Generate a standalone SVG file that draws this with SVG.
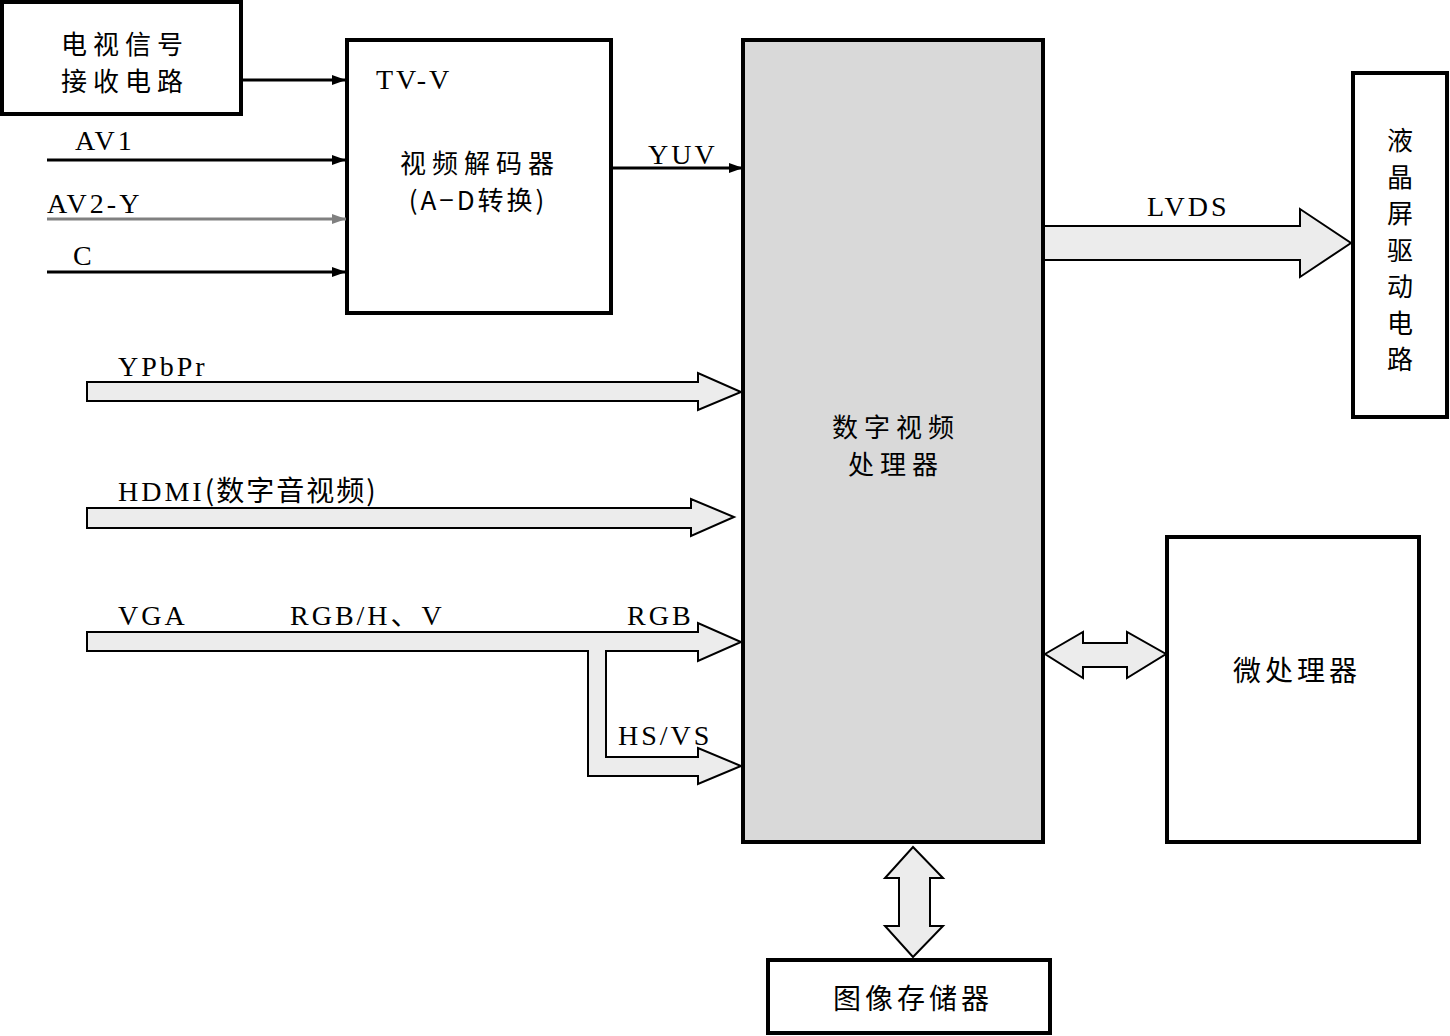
<svg xmlns="http://www.w3.org/2000/svg" width="1450" height="1036" viewBox="0 0 1450 1036">
<defs>
<marker id="ah" viewBox="0 0 14 10" refX="14" refY="5" markerWidth="14" markerHeight="10" markerUnits="userSpaceOnUse" orient="auto"><path d="M0,0 L14,5 L0,10 Z" fill="#000"/></marker>
<marker id="ahg" viewBox="0 0 14 10" refX="14" refY="5" markerWidth="14" markerHeight="10" markerUnits="userSpaceOnUse" orient="auto"><path d="M0,0 L14,5 L0,10 Z" fill="#808080"/></marker>
</defs>
<style>
.box{fill:#fff;stroke:#000;stroke-width:4}
.main{fill:#d9d9d9;stroke:#000;stroke-width:4}
.cn{font-family:"Noto Sans CJK SC",sans-serif;font-size:28px;fill:#000;letter-spacing:4px}
.cn2{font-family:"Noto Sans CJK SC",sans-serif;font-size:26px;fill:#000;letter-spacing:6px}
.cv{font-family:"Noto Sans CJK SC",sans-serif;font-size:26px;fill:#000;text-anchor:middle}
.lt{font-family:"Liberation Serif","Noto Sans CJK SC",serif;font-size:28px;fill:#000;letter-spacing:3px}
.ln{stroke:#000;stroke-width:3;fill:none}
.fat{fill:#ececec;stroke:#000;stroke-width:2;stroke-linejoin:miter}
</style>
<rect width="1450" height="1036" fill="#fff"/>
<g id="tv-receiver"><rect class="box" x="2" y="2" width="239" height="112"/><text class="cn2" x="125" y="54" text-anchor="middle">电视信号</text><text class="cn2" x="125" y="91" text-anchor="middle">接收电路</text></g>
<g id="decoder"><rect class="box" x="347" y="40" width="264" height="273"/><text class="lt" x="376" y="89">TV-V</text><text class="cn2" x="480" y="173" text-anchor="middle">视频解码器</text><text class="cn2" x="478" y="210" text-anchor="middle" style="letter-spacing:3px">(A−D转换)</text></g>
<g id="dsp"><rect class="main" x="743" y="40" width="300" height="802"/><text class="cn2" x="896" y="437" text-anchor="middle">数字视频</text><text class="cn2" x="896" y="474" text-anchor="middle">处理器</text></g>
<g id="lcd-driver"><rect class="box" x="1353" y="73" width="94" height="344"/>
<text class="cv" x="1400" y="150">液</text><text class="cv" x="1400" y="186.5">晶</text><text class="cv" x="1400" y="223">屏</text><text class="cv" x="1400" y="259.5">驱</text><text class="cv" x="1400" y="296">动</text><text class="cv" x="1400" y="332.5">电</text><text class="cv" x="1400" y="369">路</text></g>
<g id="mcu"><rect class="box" x="1167" y="537" width="252" height="305"/><text class="cn" x="1297" y="681" text-anchor="middle">微处理器</text></g>
<g id="memory"><rect class="box" x="768" y="960" width="282" height="73"/><text class="cn" x="913" y="1009" text-anchor="middle">图像存储器</text></g>
<g id="connectors">
<line class="ln" x1="241" y1="80" x2="346" y2="80" marker-end="url(#ah)"/>
<line class="ln" x1="47" y1="160" x2="346" y2="160" marker-end="url(#ah)"/>
<line x1="47" y1="219" x2="346" y2="219" stroke="#808080" stroke-width="3" marker-end="url(#ahg)"/>
<line class="ln" x1="47" y1="272" x2="346" y2="272" marker-end="url(#ah)"/>
<line class="ln" x1="611" y1="168" x2="743" y2="168" marker-end="url(#ah)"/>
<path class="fat" d="M87,382 L698,382 L698,373 L741,392 L698,410 L698,401 L87,401 Z"/>
<path class="fat" d="M87,508 L691,508 L691,499 L734,517 L691,536 L691,528 L87,528 Z"/>
<path class="fat" d="M87,632 L698,632 L698,623 L741,642 L698,661 L698,651 L606,651 L606,757 L698,757 L698,748 L741,766 L698,784 L698,776 L588,776 L588,651 L87,651 Z"/>
<path class="fat" d="M1044,226 L1300,226 L1300,209 L1351,243 L1300,277 L1300,260 L1044,260 Z"/>
<path class="fat" d="M1045,654 L1083,632 L1083,643 L1127,643 L1127,632 L1166,654 L1127,678 L1127,667 L1083,667 L1083,678 Z"/>
<path class="fat" d="M913,847 L943,878 L930,878 L930,926 L943,926 L913,957 L885,926 L899,926 L899,878 L885,878 Z"/>
<text class="lt" x="75" y="150">AV1</text>
<text class="lt" x="47" y="213">AV2-Y</text>
<text class="lt" x="73" y="265">C</text>
<text class="lt" x="648" y="164">YUV</text>
<text class="lt" x="118" y="376">YPbPr</text>
<text class="lt" x="118" y="501">HDMI<tspan style="font-family:'Noto Sans CJK SC',sans-serif;letter-spacing:2px">(数字音视频)</tspan></text>
<text class="lt" x="118" y="625">VGA</text>
<text class="lt" x="290" y="625">RGB/H、V</text>
<text class="lt" x="627" y="625">RGB</text>
<text class="lt" x="618" y="745">HS/VS</text>
<text class="lt" x="1147" y="216">LVDS</text>
</g>
</svg>
